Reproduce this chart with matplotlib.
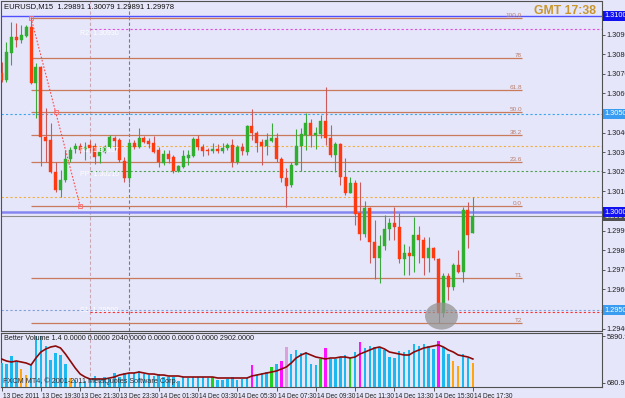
import matplotlib
matplotlib.use("Agg")
import matplotlib.pyplot as plt
import matplotlib.transforms as mtransforms
from matplotlib.patches import Ellipse
import numpy as np

plt.rcParams["font.family"] = ["Liberation Sans", "DejaVu Sans"]

# ---------------- data ----------------
header_text = "EURUSD,M15  1.29891 1.30079 1.29891 1.29978"
clock_text = "GMT 17:38"
vol_header = "Better Volume 1.4 0.0000 0.0000 2040.0000 0.0000 0.0000 0.0000 2902.0000"
copyright_text = "FXCM MT4, \u00a9 2001-2011 MetaQuotes Software Corp."

opens = [1.30709, 1.30673, 1.30811, 1.30893, 1.30878, 1.30898, 1.30944, 1.30658, 1.30740, 1.30383,
         1.30367, 1.30204, 1.30112, 1.30163, 1.30270, 1.30321, 1.30337, 1.30321, 1.30342, 1.30337,
         1.30286, 1.30306, 1.30332, 1.30378, 1.30367, 1.30260, 1.30173, 1.30352, 1.30332, 1.30378,
         1.30362, 1.30352, 1.30316, 1.30250, 1.30296, 1.30281, 1.30209, 1.30230, 1.30276, 1.30286,
         1.30372, 1.30332, 1.30316, 1.30311, 1.30321, 1.30311, 1.30327, 1.30342, 1.30255, 1.30332,
         1.30306, 1.30439, 1.30403, 1.30357, 1.30337, 1.30362, 1.30378, 1.30270, 1.30173, 1.30138,
         1.30240, 1.30337, 1.30393, 1.30454, 1.30393, 1.30398, 1.30464, 1.30378, 1.30291, 1.30347,
         1.30179, 1.30097, 1.30148, 1.29995, 1.29888, 1.30020, 1.29847, 1.29765, 1.29827, 1.29913,
         1.29944, 1.29923, 1.29760, 1.29791, 1.29776, 1.29883, 1.29857, 1.29765, 1.29816, 1.29760,
         1.29485, 1.29673, 1.29617, 1.29730, 1.29694, 1.30010, 1.29891]
highs = [1.30765, 1.30867, 1.30969, 1.30964, 1.30954, 1.30954, 1.30995, 1.30760, 1.30745, 1.30531,
         1.30454, 1.30255, 1.30214, 1.30316, 1.30332, 1.30352, 1.30352, 1.30357, 1.30367, 1.30352,
         1.30332, 1.30342, 1.30393, 1.30388, 1.30378, 1.30281, 1.30357, 1.30367, 1.30429, 1.30388,
         1.30378, 1.30388, 1.30332, 1.30316, 1.30316, 1.30291, 1.30240, 1.30316, 1.30316, 1.30383,
         1.30393, 1.30347, 1.30327, 1.30352, 1.30347, 1.30352, 1.30352, 1.30372, 1.30342, 1.30352,
         1.30444, 1.30526, 1.30413, 1.30372, 1.30403, 1.30454, 1.30403, 1.30281, 1.30225, 1.30255,
         1.30423, 1.30429, 1.30505, 1.30474, 1.30434, 1.30495, 1.30638, 1.30444, 1.30357, 1.30352,
         1.30276, 1.30179, 1.30163, 1.30153, 1.30056, 1.30026, 1.29959, 1.29883, 1.29985, 1.29969,
         1.30026, 1.29995, 1.29837, 1.29827, 1.29974, 1.29929, 1.29872, 1.29872, 1.29821, 1.29765,
         1.29689, 1.29689, 1.29740, 1.29806, 1.30026, 1.30051, 1.30079]
lows = [1.30663, 1.30663, 1.30750, 1.30842, 1.30862, 1.30893, 1.30653, 1.30480, 1.30235, 1.30255,
        1.30199, 1.30102, 1.30077, 1.30153, 1.30255, 1.30301, 1.30301, 1.30265, 1.30306, 1.30245,
        1.30250, 1.30301, 1.30327, 1.30316, 1.30255, 1.30153, 1.30148, 1.30321, 1.30327, 1.30352,
        1.30327, 1.30301, 1.30230, 1.30240, 1.30250, 1.30199, 1.30204, 1.30225, 1.30240, 1.30281,
        1.30316, 1.30286, 1.30291, 1.30301, 1.30301, 1.30301, 1.30316, 1.30230, 1.30245, 1.30291,
        1.30291, 1.30367, 1.30306, 1.30240, 1.30291, 1.30357, 1.30255, 1.30153, 1.30026, 1.30128,
        1.30240, 1.30209, 1.30316, 1.30332, 1.30321, 1.30378, 1.30342, 1.30281, 1.30204, 1.30138,
        1.30087, 1.30097, 1.29934, 1.29857, 1.29872, 1.29740, 1.29658, 1.29638, 1.29806, 1.29857,
        1.29857, 1.29740, 1.29679, 1.29679, 1.29694, 1.29740, 1.29679, 1.29694, 1.29755, 1.29434,
        1.29464, 1.29551, 1.29602, 1.29689, 1.29643, 1.29816, 1.29891]
closes = [1.30673, 1.30816, 1.30893, 1.30878, 1.30903, 1.30944, 1.30658, 1.30740, 1.30383, 1.30362,
          1.30204, 1.30112, 1.30163, 1.30270, 1.30316, 1.30337, 1.30316, 1.30332, 1.30327, 1.30281,
          1.30306, 1.30332, 1.30383, 1.30362, 1.30265, 1.30173, 1.30352, 1.30332, 1.30378, 1.30357,
          1.30347, 1.30306, 1.30255, 1.30296, 1.30270, 1.30209, 1.30235, 1.30286, 1.30291, 1.30372,
          1.30332, 1.30311, 1.30311, 1.30321, 1.30311, 1.30327, 1.30342, 1.30255, 1.30332, 1.30311,
          1.30439, 1.30403, 1.30352, 1.30337, 1.30367, 1.30378, 1.30270, 1.30173, 1.30133, 1.30240,
          1.30337, 1.30398, 1.30454, 1.30393, 1.30403, 1.30464, 1.30378, 1.30291, 1.30347, 1.30179,
          1.30097, 1.30148, 1.29990, 1.29888, 1.30020, 1.29847, 1.29765, 1.29827, 1.29913, 1.29944,
          1.29923, 1.29760, 1.29791, 1.29776, 1.29883, 1.29857, 1.29765, 1.29816, 1.29765, 1.29485,
          1.29673, 1.29617, 1.29730, 1.29694, 1.30010, 1.29883, 1.29978]

volumes = [2891, 2780, 3670, 3002, 2224, 1557, 2669, 5891, 5850, 4782,
           3225, 4003, 3781, 2780, 1223, 1001, 778, 890, 1112, 1446,
           1001, 1334, 1112, 1779, 1334, 1779, 1779, 1779, 2002, 1668,
           1557, 1446, 1668, 1334, 1334, 1334, 890, 1334, 1223, 1334,
           1334, 1334, 1223, 1334, 1001, 1001, 1112, 1334, 1001, 1112,
           1223, 2669, 1557, 1779, 1890, 2446, 2780, 3114, 4670, 3892,
           4337, 4003, 4114, 2780, 2669, 3336, 4559, 3336, 3336, 3558,
           3781, 3447, 4114, 5226, 4559, 4782, 4670, 4559, 4337, 3558,
           3447, 4226, 4114, 4337, 5004, 4782, 5004, 4782, 4448, 5338,
           4670, 3892, 3114, 2558, 3892, 3447, 2902]
# b=normal, o=low volume, m=climax, g=churn, p=climax+churn
volume_kinds = ("bbbboobbbb" "bbbbobbbbb" "bbbbbbbbbb" "bbbbbbbbbb" "bbbgbbbbbb"
                "bmbbbgbmpb" "bbbbbgmbbb" "bgbmbbbbbb" "bbbbbbbbbm" "bboobbo")
volume_ma = [3336, 3114, 3002, 3114, 3002, 2891, 2669, 3447, 4114, 4448,
             4670, 4782, 4559, 3892, 3114, 2335, 1668, 1334, 1112, 1112,
             1112, 1112, 1223, 1334, 1557, 1668, 1779, 1779, 1890, 1779,
             1668, 1668, 1557, 1557, 1446, 1446, 1446, 1334, 1334, 1334,
             1334, 1334, 1334, 1334, 1223, 1223, 1223, 1223, 1223, 1223,
             1223, 1446, 1557, 1668, 1779, 1890, 2002, 2224, 2446, 2891,
             3447, 3781, 4003, 3781, 3558, 3447, 3336, 3447, 3447, 3558,
             3558, 3447, 3558, 3892, 4114, 4337, 4559, 4670, 4448, 4114,
             4003, 3892, 3781, 3781, 4114, 4337, 4559, 4670, 4782, 4893,
             4670, 4337, 4114, 3781, 3670, 3558, 3336]

fib_levels = [1.30990, 1.30786, 1.30622, 1.30510, 1.30393, 1.30255, 1.30031, 1.29663, 1.29434]
fib_labels = ["100.0", "78", "61.8", "50.0", "38.2", "23.6", "0.0", "T1", "T2"]
fib_start_bar = 6
fib_end_bar = 16
fib_line_end_bar = 106

price_ticks = [1.30905, 1.30805, 1.30705, 1.30605, 1.30405, 1.30305, 1.30205, 1.30105,
               1.29905, 1.29805, 1.29705, 1.29605, 1.29405]
x_tick_bars = [0, 8, 16, 24, 32, 40, 48, 56, 64, 72, 80, 88, 96]
x_tick_labels = ["13 Dec 2011", "13 Dec 19:30", "13 Dec 21:30", "13 Dec 23:30", "14 Dec 01:30",
                 "14 Dec 03:30", "14 Dec 05:30", "14 Dec 07:30", "14 Dec 09:30", "14 Dec 11:30",
                 "14 Dec 13:30", "14 Dec 15:30", "14 Dec 17:30"]
today_bar = 18
day_sep_bar = 26

# ---------------- figure ----------------
W, H = 625, 398
BG = "#e6e6fa"
fig = plt.figure(figsize=(W / 100, H / 100), dpi=100, facecolor=BG)

def frac_box(x0, y0, x1, y1):
    return [x0 / W, 1 - y1 / H, (x1 - x0) / W, (y1 - y0) / H]

ax = fig.add_axes(frac_box(1, 1, 602, 331), facecolor=BG)
axv = fig.add_axes(frac_box(1, 333, 602, 387), facecolor=BG, sharex=ax)

n = len(opens)
xs = np.arange(n)
o = np.array(opens); c = np.array(closes); h = np.array(highs); l = np.array(lows)
up = c >= o

UP_BODY, UP_WICK = "#2fae2f", "#3aa83a"
DN_BODY, DN_WICK = "#ff3a10", "#cc5a5a"

ax.vlines(xs[up], l[up], h[up], color=UP_WICK, lw=0.8, zorder=3)
ax.vlines(xs[~up], l[~up], h[~up], color=DN_WICK, lw=0.8, zorder=3)
body_h = np.maximum(np.abs(c - o), 0.00004)
ax.bar(xs[up], body_h[up], bottom=np.minimum(o, c)[up], width=0.62, color=UP_BODY,
       edgecolor=UP_BODY, lw=0.3, zorder=4)
ax.bar(xs[~up], body_h[~up], bottom=np.minimum(o, c)[~up], width=0.62, color=DN_BODY,
       edgecolor=DN_BODY, lw=0.3, zorder=4)

XMIN, XMAX = -0.12, 122.3
ax.set_xlim(XMIN, XMAX)
ax.set_ylim(1.293929, 1.310765)

# horizontal reference lines
ax.axhline(1.31000, color="#5050ff", lw=1.0, zorder=2)
ax.axhline(1.30000, color="#8686f0", lw=1.8, zorder=2)
ax.axhline(1.29978, color="#8c8c8c", lw=0.8, zorder=2)
ax.axhline(1.30500, color="#3aa6f0", lw=0.8, ls=(0, (2, 2)), zorder=2)
ax.axhline(1.29500, color="#80a0d8", lw=0.8, ls=(0, (2, 2)), zorder=2)
ax.axhline(1.30077, color="#f0b040", lw=0.8, ls=(0, (2, 2)), zorder=2)
ax.hlines(1.30934, today_bar, XMAX, color="#e050e0", lw=0.8, ls=(0, (2, 2)), zorder=2)
ax.hlines(1.30337, today_bar, XMAX, color="#f0b040", lw=0.8, ls=(0, (2, 2)), zorder=2)
ax.hlines(1.30211, today_bar, XMAX, color="#4ea04e", lw=0.8, ls=(0, (2, 2)), zorder=2)
ax.hlines(1.29488, today_bar, XMAX, color="#ff3030", lw=0.8, ls=(0, (2, 2)), zorder=2)

pv_kw = dict(color="white", fontsize=5, va="center", ha="left", zorder=6)
ax.text(today_bar - 2, 1.30910, "R2: 1.30930", **pv_kw)
ax.text(today_bar - 2, 1.30315, "R1: 1.30337", **pv_kw)
ax.text(today_bar - 2, 1.30190, "PP: 1.30210", **pv_kw)
ax.text(today_bar - 2, 1.29500, "S1: 1.29500", **pv_kw)

# Fibonacci levels
for lev, lab in zip(fib_levels, fib_labels):
    ax.hlines(lev, fib_start_bar, fib_line_end_bar, color="#c87a5a", lw=0.9, zorder=2)
    ax.text(fib_line_end_bar, lev + 0.00012, lab, color="#b8806e", fontsize=4.6,
            ha="right", va="center", zorder=6)
ax.plot([fib_start_bar, fib_end_bar], [fib_levels[0], fib_levels[6]], color="#ff4a4a",
        lw=0.8, ls=(0, (1.5, 1.5)), zorder=5)
ax.plot([fib_start_bar, (fib_start_bar + fib_end_bar) / 2, fib_end_bar],
        [fib_levels[0], (fib_levels[0] + fib_levels[6]) / 2, fib_levels[6]],
        ls="none", marker="s", ms=2.2, mfc="none", mec="#ff6a6a", mew=0.6, zorder=5)

# vertical separators
for a in (ax, axv):
    a.axvline(today_bar, color="#c8a8b4", lw=0.8, ls=(0, (3, 2)), zorder=1)
    a.axvline(day_sep_bar, color="#7c7c7c", lw=0.8, ls=(0, (3, 2)), zorder=1)

# highlight ellipse
ax.add_patch(Ellipse((89.6, 1.29469), width=6.7, height=0.00138, facecolor="#949494",
                     edgecolor="none", alpha=0.75, zorder=7))

# price axis
ax.yaxis.tick_right()
ax.set_yticks(price_ticks)
ax.set_yticklabels([f"{p:.5f}" for p in price_ticks])
ax.tick_params(axis="y", right=True, left=False, length=2, width=0.6, color="#404040",
               labelsize=5.3, pad=1.5, labelcolor="#202020")
ax.tick_params(axis="x", bottom=False, labelbottom=False)

bt = mtransforms.blended_transform_factory(ax.transAxes, ax.transData)
def price_tag(p, fc, tc="white"):
    ax.text(1.0 + 2.5 / 601, p, f"{p:.5f}", transform=bt, fontsize=5.3, color=tc,
            ha="left", va="center", clip_on=False, zorder=10,
            bbox=dict(boxstyle="square,pad=0.15", fc=fc, ec="none"))
price_tag(1.29978, "#505050")
price_tag(1.31000, "#1010f0")
price_tag(1.30500, "#3a9cf0")
price_tag(1.30000, "#1010f0")
price_tag(1.29500, "#3a9cf0")

for a in (ax, axv):
    for s in a.spines.values():
        s.set_color("#505050")
        s.set_linewidth(0.8)
        s.set_linestyle((0, (2, 1)))

# ---------------- volume panel ----------------
kind_colors = {"b": "#1cb8f0", "o": "#ffa510", "m": "#ff10ff", "g": "#22d022", "p": "#dca0dc"}
vcols = [kind_colors[k] for k in volume_kinds]
axv.bar(xs, volumes, width=0.5, color=vcols, zorder=3)
axv.plot(xs, volume_ma, color="#8b0a0a", lw=1.2, zorder=4)
axv.set_ylim(222, 6227)
axv.yaxis.tick_right()
axv.set_yticks([680.9, 5890.9])
axv.set_yticklabels(["680.9", "5890.9"])
axv.tick_params(axis="y", right=True, left=False, length=2, width=0.6, color="#404040",
                labelsize=5.3, pad=1.5, labelcolor="#202020")
axv.set_xticks(x_tick_bars)
axv.set_xticklabels(x_tick_labels, ha="left")
axv.tick_params(axis="x", length=3, width=0.6, color="#404040", labelsize=4.7, pad=1,
                labelcolor="#202020")
for lbl in axv.get_xticklabels():
    lbl.set_transform(lbl.get_transform() + mtransforms.ScaledTranslation(1.0 / 100, 0, fig.dpi_scale_trans))

axv.text(3 / 601, 1 - 6 / 54, vol_header, transform=axv.transAxes, fontsize=5.2,
         color="#202020", ha="left", va="center", zorder=6)
axv.text(2 / 601, 6 / 54, copyright_text, transform=axv.transAxes, fontsize=5.2,
         color="#303030", ha="left", va="center", zorder=6)

# header texts
fig.text(4 / W, 1 - 6.5 / H, header_text, fontsize=5.5, color="#101010", ha="left", va="center")
fig.text(596 / W, 1 - 11 / H, clock_text, fontsize=8.8, fontweight="bold", color="#c8962a",
         ha="right", va="center")

fig.savefig("out.png", dpi=100, facecolor=BG)
